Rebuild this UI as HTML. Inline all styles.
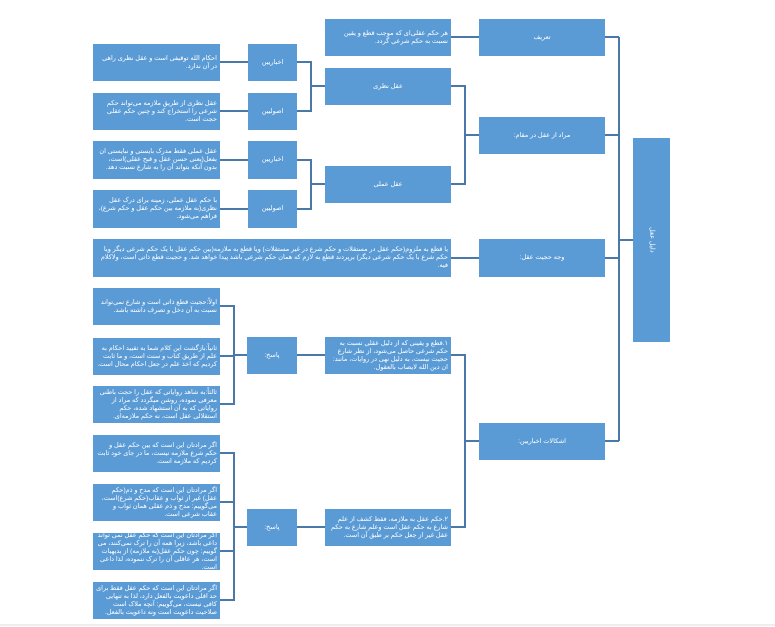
<!DOCTYPE html>
<html><head><meta charset="utf-8"><style>
body{margin:0;width:775px;height:627px;background:#fff;position:relative;overflow:hidden;font-family:"Liberation Sans","DejaVu Sans",sans-serif}
.b{position:absolute;background:#5B9BD5;color:#fff;font-size:6.5px;line-height:8px;direction:rtl;display:flex;align-items:center;justify-content:center;text-align:center;box-sizing:border-box;padding:0 3px;overflow:hidden}
.l{justify-content:flex-start;text-align:right}
svg{position:absolute;left:0;top:0}
</style></head><body>
<svg width="775" height="627" stroke="#4A78A8" stroke-width="2" fill="none">
<path d="M619 37V441M605 37H619M605 135H619M605 258H619M605 441H619M619 240H633"/>
<path d="M451 37H479M451 86H465V184H451M465 135H479M451 258H479M451 355H465V527H451M465 441H479"/>
<path d="M297 62H311V111H297M311 86H325M297 160H311V209H297M311 184H325M297 355H325M297 527H325"/>
<path d="M220 62H248M220 111H248M220 160H248M220 209H248"/>
<path d="M220 306H234V404H220M220 356H234M234 355H247M220 453H234V600H220M220 502H234M220 551H234M234 527H247"/>
<path d="M0 625H775" stroke="#ddd" stroke-width="1"/>
</svg>
<div class="b" style="left:633px;top:138px;width:37px;height:204px"><span style="writing-mode:vertical-rl">دلیل عقل</span></div>
<div class="b" style="left:479px;top:19px;width:126px;height:37px">تعریف</div>
<div class="b" style="left:479px;top:117px;width:126px;height:37px">مراد از عقل در مقام:</div>
<div class="b" style="left:479px;top:239px;width:126px;height:38px">وجه حجیت عقل:</div>
<div class="b" style="left:479px;top:423px;width:126px;height:37px">اشکالات اخباریین:</div>
<div class="b l" style="left:325px;top:19px;width:126px;height:37px">هر حکم عقلی‌ای که موجب قطع و یقین نسبت به حکم شرعی گردد.</div>
<div class="b" style="left:325px;top:68px;width:126px;height:37px">عقل نظری</div>
<div class="b" style="left:325px;top:166px;width:126px;height:37px">عقل عملی</div>
<div class="b l" style="left:93px;top:239px;width:358px;height:38px">یا قطع به ملزوم(حکم عقل در مستقلات و حکم شرع در غیر مستقلات) ویا قطع به ملازمه(بین حکم عقل با یک حکم شرعی دیگر ویا حکم شرع با یک حکم شرعی دیگر) برپردند قطع به لازم که همان حکم شرعی باشد پیدا خواهد شد. و حجیت قطع ذاتی است، ولاکلام فیه.</div>
<div class="b l" style="left:325px;top:337px;width:126px;height:37px">۱.قطع و یقینی که از دلیل عقلی نسبت به حکم شرعی حاصل می‌شود، از نظر شارع حجیت نیست، به دلیل نهی در روایات، مانند: ان دین الله لایصاب بالعقول.</div>
<div class="b l" style="left:325px;top:509px;width:126px;height:37px">۲.حکم عقل به ملازمه، فقط کشف از علم شارع به حکم عقل است وعلم شارع به حکم عقل غیر از جعل حکم بر طبق آن است.</div>
<div class="b" style="left:248px;top:44px;width:49px;height:37px">اخباریین</div>
<div class="b" style="left:248px;top:93px;width:49px;height:37px">اصولیین</div>
<div class="b" style="left:248px;top:141px;width:49px;height:38px">اخباریین</div>
<div class="b" style="left:248px;top:190px;width:49px;height:38px">اصولیین</div>
<div class="b" style="left:247px;top:337px;width:50px;height:37px">پاسخ:</div>
<div class="b" style="left:247px;top:509px;width:50px;height:37px">پاسخ:</div>
<div class="b l" style="left:93px;top:44px;width:127px;height:37px">احکام الله توقیفی است و عقل نظری راهی در آن ندارد.</div>
<div class="b l" style="left:93px;top:93px;width:127px;height:37px">عقل نظری از طریق ملازمه می‌تواند حکم شرعی را استخراج کند و چنین حکم عقلی حجت است.</div>
<div class="b l" style="left:93px;top:141px;width:127px;height:38px">عقل عملی فقط مدرک بایستی و نبایستی ان بفعل(یعنی حسن عقل و قبح عقلی)است، بدون آنکه بتواند آن را به شارع نسبت دهد.</div>
<div class="b l" style="left:93px;top:190px;width:127px;height:38px">با حکم عقل عملی، زمینه برای درک عقل نظری(به ملازمه بین حکم عقل و حکم شرع)، فراهم می‌شود.</div>
<div class="b l" style="left:93px;top:288px;width:127px;height:37px">اولاً:حجیت قطع ذاتی است و شارع نمی‌تواند نسبت به آن دخل و تصرف داشته باشد.</div>
<div class="b l" style="left:93px;top:338px;width:127px;height:37px">ثانیاً:بازگشت این کلام شما به تقیید احکام به علم از طریق کتاب و سنت است، و ما ثابت کردیم که اخذ علم در جعل احکام محال است.</div>
<div class="b l" style="left:93px;top:386px;width:127px;height:37px">ثالثاً:به شاهد روایاتی که عقل را حجت باطنی معرفی نموده، روشن میگردد که مراد از روایاتی که به آن استشهاد شده، حکم استقلالی عقل است، نه حکم ملازمه‌ای.</div>
<div class="b l" style="left:93px;top:435px;width:127px;height:37px">اگر مرادتان این است که بین حکم عقل و حکم شرع ملازمه نیست، ما در جای خود ثابت کردیم که ملازمه است.</div>
<div class="b l" style="left:93px;top:484px;width:127px;height:37px">اگر مرادتان این است که مدح و ذم(حکم عقل) غیر از ثواب و عقاب(حکم شرع)است، می‌گوییم: مدح و ذم عقلی همان ثواب و عقاب شرعی است.</div>
<div class="b l" style="left:93px;top:533px;width:127px;height:37px">اگر مرادتان این است که حکم عقل نمی تواند داعی باشد، زیرا همه آن را ترک نمی‌کنند، می گوییم: چون حکم عقل(به ملازمه) از بدیهیات است، هر عاقلی آن را ترک ننموده، لذا داعی است.</div>
<div class="b l" style="left:93px;top:582px;width:127px;height:37px">اگر مرادتان این است که حکم عقل فقط برای حد اقلی داعویت بالفعل دارد، لذا به تنهایی کافی نیست، می‌گوییم: آنچه ملاک است صلاحیت داعویت است ونه داعویت بالفعل.</div>
</body></html>
